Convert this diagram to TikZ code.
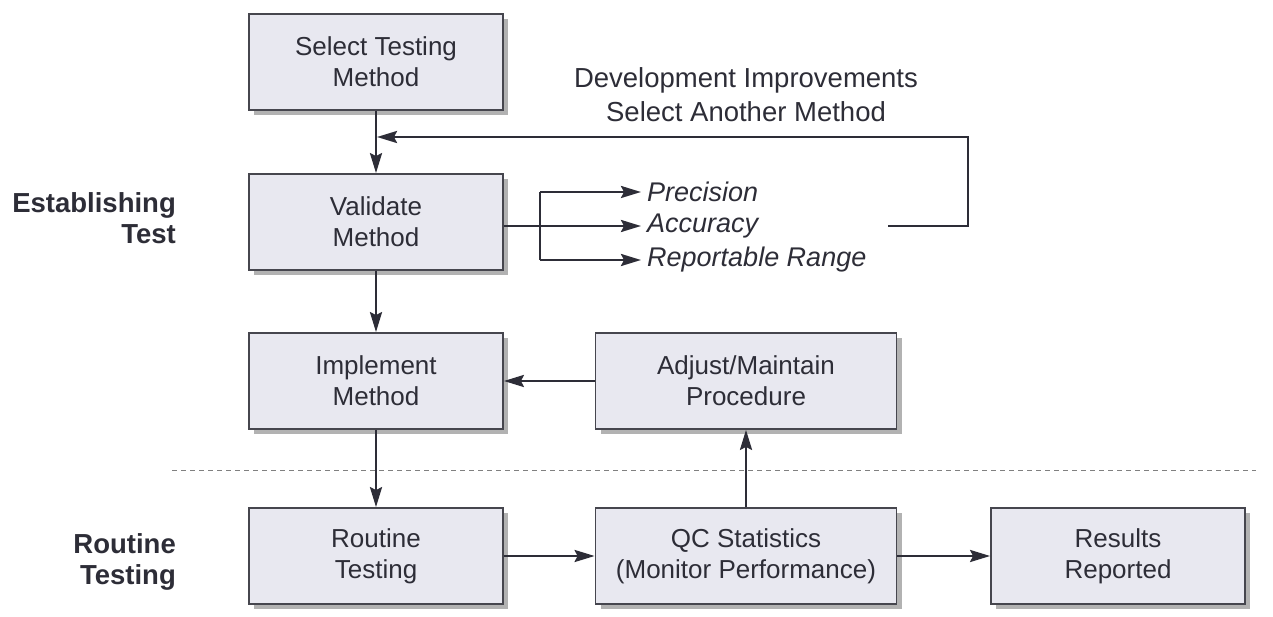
\documentclass[tikz,border=0pt]{standalone}
\usepackage{fontspec}
\setmainfont{Liberation Sans}
\usetikzlibrary{arrows.meta,shadows}
\definecolor{boxfill}{RGB}{232,232,240}
\definecolor{boxdraw}{RGB}{70,70,78}
\definecolor{ink}{RGB}{45,45,55}
\begin{document}
\begin{tikzpicture}[x=1pt,y=-1pt,
  box/.style={draw=boxdraw,line width=1.8pt,fill=boxfill,
    drop shadow={shadow xshift=5pt,shadow yshift=-5pt,fill=gray!60,opacity=1},
    minimum height=96pt,align=center,font=\fontsize{26}{31}\selectfont,text=ink,inner sep=0pt},
  arr/.style={draw=ink,line width=2.6pt,-{Stealth[length=20pt,width=12pt,inset=3pt]}},
  lbl/.style={font=\fontsize{27}{31}\selectfont\itshape,text=ink,anchor=west,inner sep=0pt},
  side/.style={font=\fontsize{27.5}{31}\selectfont\bfseries,text=ink,align=right,anchor=east,inner sep=0pt},
  plain/.style={font=\fontsize{27.5}{34}\selectfont,text=ink,align=center,inner sep=0pt}]
\useasboundingbox (0,0) rectangle (1273,617);
\fill[white] (0,0) rectangle (1273,617);

\node[box,minimum width=254pt] (sel) at (376,62) {Select Testing\\Method};
\node[box,minimum width=254pt] (val) at (376,222) {Validate\\Method};
\node[box,minimum width=254pt] (imp) at (376,381) {Implement\\Method};
\node[box,minimum width=301pt] (adj) at (746,381) {Adjust/Maintain\\Procedure};
\node[box,minimum width=254pt] (rout) at (376,556) {Routine\\Testing};
\node[box,minimum width=301pt] (qc) at (746,556) {QC Statistics\\(Monitor Performance)};
\node[box,minimum width=254pt] (res) at (1118,556) {Results\\Reported};

\node[lbl] (prec) at (647,192) {Precision};
\node[lbl] (acc) at (647,226) {Accuracy};
\node[lbl] (rr) at (647,260) {Reportable Range};

\node[plain] (dev) at (746,95) {Development Improvements\\Select Another Method};

\node[side] (est) at (176,218) {Establishing\\Test};
\node[side] (rt) at (176,562) {Routine\\Testing};

\coordinate (br) at (540,226);
\coordinate (fbin) at (376,137);
\coordinate (fbs) at (888,226);
\draw[dashed,draw=gray,line width=1pt,dash pattern=on 5pt off 4pt] (172,470) -- (1256,470);

\draw[arr] (sel.south) -- (val.north);
\draw[arr] (val.south) -- (imp.north);
\draw[arr] (imp.south) -- (rout.north);
\draw[arr] (adj.west) -- (imp.east);
\draw[arr] (rout.east) -- (qc.west);
\draw[arr] (qc.north) -- (adj.south);
\draw[arr] (qc.east) -- (res.west);

\draw[arr] (val.east |- acc.west) -- ([xshift=-6pt]acc.west);
\draw[draw=ink,line width=2.6pt] (br |- prec.west) -- (br |- rr.west);
\draw[arr] (br |- prec.west) -- ([xshift=-6pt]prec.west);
\draw[arr] (br |- rr.west) -- ([xshift=-6pt]rr.west);

\draw[arr] (fbs) -- (968,226) -- (968,137) -- ([xshift=1pt]fbin);
\end{tikzpicture}
\end{document}
